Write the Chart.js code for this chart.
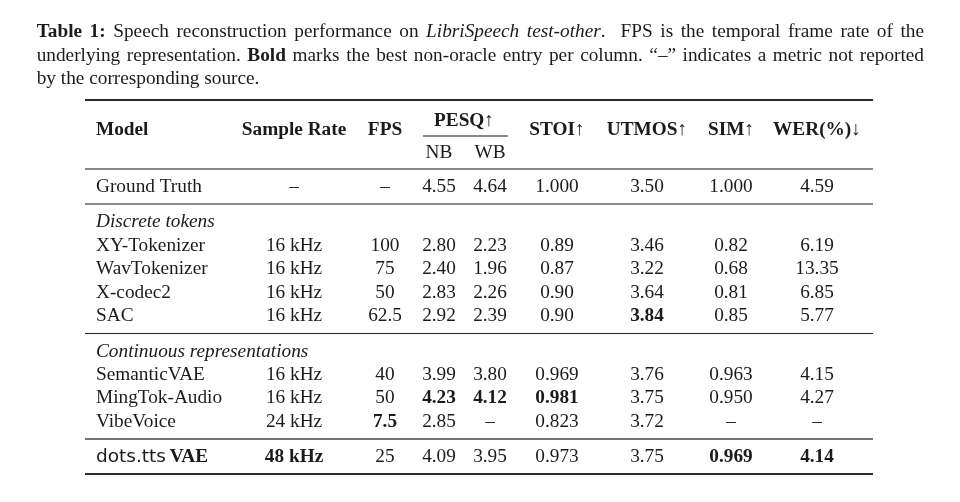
<!DOCTYPE html>
<html>
<head>
<meta charset="utf-8">
<script src="https://cdn.jsdelivr.net/npm/chart.js@4.4.1/dist/chart.umd.min.js"></script>
<style>
  html, body { margin: 0; padding: 0; background: #fff; }
  #wrap { width: 960px; height: 502px; }
</style>
</head>
<body>
<div id="wrap"><canvas id="tableChart" width="960" height="502"></canvas></div>
<script>
// Données du tableau
const DASH = '–';
const headers = ['Model', 'Sample Rate', 'FPS', 'NB', 'WB', 'STOI↑', 'UTMOS↑', 'SIM↑', 'WER(%)↓'];
const groupTitle = 'PESQ↑';
const groups = ['Discrete tokens', 'Continuous representations'];

const models     = ['Ground Truth', 'XY-Tokenizer', 'WavTokenizer', 'X-codec2', 'SAC', 'SemanticVAE', 'MingTok-Audio', 'VibeVoice', 'dots.tts VAE'];
const sampleRate = [DASH, '16 kHz', '16 kHz', '16 kHz', '16 kHz', '16 kHz', '16 kHz', '24 kHz', '48 kHz'];
const fps        = [DASH, '100', '75', '50', '62.5', '40', '50', '7.5', '25'];
const pesqNB     = ['4.55', '2.80', '2.40', '2.83', '2.92', '3.99', '4.23', '2.85', '4.09'];
const pesqWB     = ['4.64', '2.23', '1.96', '2.26', '2.39', '3.80', '4.12', DASH, '3.95'];
const stoi       = ['1.000', '0.89', '0.87', '0.90', '0.90', '0.969', '0.981', '0.823', '0.973'];
const utmos      = ['3.50', '3.46', '3.22', '3.64', '3.84', '3.76', '3.75', '3.72', '3.75'];
const sim        = ['1.000', '0.82', '0.68', '0.81', '0.85', '0.963', '0.950', DASH, '0.969'];
const wer        = ['4.59', '6.19', '13.35', '6.85', '5.77', '4.15', '4.27', DASH, '4.14'];

// Meilleure valeur par colonne (en gras) : [ligne, colonne]
const boldCells = [[8, 1], [7, 2], [6, 3], [6, 4], [6, 5], [4, 6], [8, 7], [8, 8]];

// Mise en page (unités des axes = pixels de la page)
const colX   = [96, 294, 385, 439, 490, 557, 647, 731, 817];
const rowY   = [187, 246, 269, 293, 316, 375, 398, 422, 457];
const groupY = [222, 352];
const headY  = 130, subHeadY = 153, groupTitleY = 121;
const rules  = [[100, 2], [169, 1.1], [204, 1.1], [333.5, 1.1], [439, 1.3], [474, 2]];
const ruleL = 85, ruleR = 873;

const SERIF = '"Liberation Serif", "Times New Roman", serif';
const SANS = '"DejaVu Sans", sans-serif';
const FS = 19.3;
const INK = '#1b1b1b';

const columns = [models, sampleRate, fps, pesqNB, pesqWB, stoi, utmos, sim, wer];

const captionLines = [
    { justify: true, y: 37, runs: [['b', 'Table 1:'], ['r', ' Speech reconstruction performance on '], ['i', 'LibriSpeech test-other'], ['r', '.  FPS is the temporal frame rate of the']] },
    { justify: true, y: 60.5, runs: [['r', 'underlying representation. '], ['b', 'Bold'], ['r', ' marks the best non-oracle entry per column. “–” indicates a metric not reported']] },
    { justify: false, y: 83.5, runs: [['r', 'by the corresponding source.']] }
];

function font(style, size) {
    const s = size || FS;
    if (style === 'b') return `bold ${s}px ${SERIF}`;
    if (style === 'i') return `italic ${s}px ${SERIF}`;
    if (style === 's') return `${s - 0.8}px ${SANS}`;
    return `${s}px ${SERIF}`;
}

function isBold(r, c) {
    return boldCells.some(b => b[0] === r && b[1] === c);
}

// Ligne de texte justifiée (comme LaTeX)
function drawRichLine(ctx, line, x0, x1, y) {
    const pieces = [];
    line.runs.forEach(([st, txt]) => {
        txt.split(/( )/).forEach(p => {
            if (p === '') return;
            ctx.font = font(st);
            pieces.push({ st, p, w: ctx.measureText(p).width, space: p === ' ' });
        });
    });
    const natural = pieces.reduce((a, p) => a + p.w, 0);
    const nSpaces = pieces.filter(p => p.space).length;
    const extra = line.justify && nSpaces ? (x1 - x0 - natural) / nSpaces : 0;
    let x = x0;
    ctx.textAlign = 'left';
    ctx.textBaseline = 'alphabetic';
    pieces.forEach(p => {
        if (!p.space) {
            ctx.font = font(p.st);
            ctx.fillText(p.p, x, y);
        }
        x += p.w + (p.space ? extra : 0);
    });
}

const tablePlugin = {
    id: 'tableText',
    afterDatasetsDraw(chart) {
        const ctx = chart.ctx;
        const xs = chart.scales.x, ys = chart.scales.y;
        const px = v => xs.getPixelForValue(v);
        const py = v => ys.getPixelForValue(v);
        ctx.save();
        ctx.fillStyle = INK;

        // Légende
        captionLines.forEach(l => drawRichLine(ctx, l, px(36.7), px(924), py(l.y)));

        // Filets horizontaux
        ctx.fillStyle = '#2a2a2a';
        rules.forEach(([y, t]) => ctx.fillRect(px(ruleL), py(y) - t / 2, px(ruleR) - px(ruleL), t));
        ctx.fillRect(px(423), py(136) - 0.55, px(508) - px(423), 1.1);

        // En-têtes
        ctx.fillStyle = INK;
        ctx.textBaseline = 'middle';
        headers.forEach((h, c) => {
            const sub = (c === 3 || c === 4);
            ctx.font = sub ? font('r') : font('b');
            ctx.textAlign = c === 0 ? 'left' : 'center';
            ctx.fillText(h, px(colX[c]), py(sub ? subHeadY : headY));
        });
        ctx.font = font('b');
        ctx.textAlign = 'center';
        ctx.fillText(groupTitle, px(464), py(groupTitleY));

        // Titres de groupes
        ctx.font = font('i');
        ctx.textAlign = 'left';
        groups.forEach((g, i) => ctx.fillText(g, px(colX[0]), py(groupY[i])));

        // Cellules, placées par les points du jeu de données
        chart.data.datasets.forEach((ds, c) => {
            const meta = chart.getDatasetMeta(c);
            meta.data.forEach((pt, r) => {
                const txt = ds.cells[r];
                if (c === 0) {
                    ctx.textAlign = 'left';
                    if (txt === 'dots.tts VAE') {
                        ctx.font = font('s');
                        const a = 'dots.tts ';
                        ctx.fillText(a, pt.x, pt.y);
                        const w = ctx.measureText(a).width;
                        ctx.font = font('b');
                        ctx.fillText('VAE', pt.x + w - 2, pt.y);
                    } else {
                        ctx.font = font('r');
                        ctx.fillText(txt, pt.x, pt.y);
                    }
                } else {
                    ctx.textAlign = 'center';
                    ctx.font = isBold(r, c) ? font('b') : font('r');
                    ctx.fillText(txt, pt.x, pt.y);
                }
            });
        });
        ctx.restore();
    }
};

const datasets = columns.map((col, c) => ({
    label: headers[c],
    cells: col,
    data: col.map((v, r) => ({ x: colX[c], y: rowY[r] })),
    pointRadius: 0,
    pointHoverRadius: 0,
    showLine: false
}));

new Chart(document.getElementById('tableChart').getContext('2d'), {
    type: 'scatter',
    data: { datasets },
    options: {
        responsive: false,
        animation: false,
        events: [],
        layout: { padding: 0 },
        plugins: { legend: { display: false }, tooltip: { enabled: false }, title: { display: false } },
        scales: {
            x: { type: 'linear', display: false, min: 0, max: 960 },
            y: { type: 'linear', display: false, min: 0, max: 502, reverse: true }
        }
    },
    plugins: [{
        id: 'whiteBg',
        beforeDraw(chart) {
            const c = chart.ctx;
            c.save();
            c.fillStyle = '#fff';
            c.fillRect(0, 0, chart.width, chart.height);
            c.restore();
        }
    }, tablePlugin]
});
</script>
</body>
</html>
